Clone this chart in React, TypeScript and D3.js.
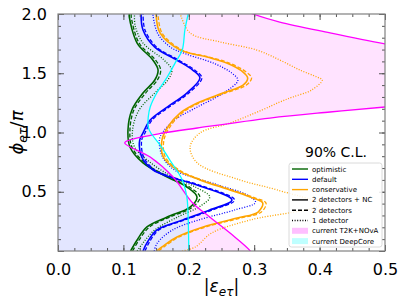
import React, { useEffect, useRef } from "react";
import * as d3 from "d3";

// [|eps_et|, phi_et/pi] pairs
const greenSolid = [[0.111,0],[0.121,0.093],[0.136,0.203],[0.167,0.287],[0.202,0.371],[0.2125,0.456],[0.197,0.54],[0.167,0.624],[0.130,0.743],[0.110,0.878],[0.107,1.021],[0.113,1.19],[0.130,1.333],[0.148,1.443],[0.153,1.527],[0.145,1.612],[0.121,1.755],[0.109,1.975],[0.109,2.0]];
const greenDashed = [[0.114,0],[0.124,0.093],[0.140,0.203],[0.171,0.287],[0.206,0.371],[0.217,0.456],[0.201,0.54],[0.170,0.624],[0.133,0.743],[0.113,0.878],[0.110,1.021],[0.116,1.19],[0.134,1.333],[0.152,1.443],[0.157,1.527],[0.149,1.612],[0.124,1.755],[0.112,1.975],[0.112,2.0]];
const greenDotted = [[0.121,0],[0.130,0.068],[0.148,0.177],[0.183,0.287],[0.218,0.38],[0.232,0.456],[0.210,0.54],[0.176,0.624],[0.142,0.743],[0.117,0.878],[0.114,1.02],[0.124,1.19],[0.148,1.333],[0.168,1.443],[0.174,1.527],[0.162,1.612],[0.130,1.755],[0.118,1.9],[0.117,2.0]];

const blueSolid = [[0.130,0],[0.136,0.068],[0.151,0.177],[0.191,0.262],[0.232,0.346],[0.266,0.43],[0.2125,0.557],[0.171,0.624],[0.145,0.684],[0.128,0.793],[0.125,0.937],[0.130,0.996],[0.141,1.105],[0.167,1.215],[0.197,1.333],[0.217,1.46],[0.206,1.527],[0.182,1.61],[0.148,1.72],[0.130,1.865],[0.127,2.0]];
const blueDashed = [[0.133,0],[0.139,0.068],[0.154,0.177],[0.194,0.262],[0.236,0.346],[0.270,0.43],[0.216,0.557],[0.174,0.624],[0.148,0.684],[0.131,0.793],[0.128,0.937],[0.133,0.996],[0.144,1.105],[0.170,1.215],[0.200,1.333],[0.220,1.46],[0.209,1.527],[0.185,1.61],[0.151,1.72],[0.133,1.865],[0.130,2.0]];
const blueDotted = [[0.147,0],[0.152,0.068],[0.175,0.177],[0.215,0.262],[0.270,0.346],[0.302,0.41],[0.290,0.47],[0.245,0.557],[0.205,0.624],[0.178,0.684],[0.160,0.793],[0.155,0.937],[0.160,1.0],[0.178,1.105],[0.213,1.215],[0.253,1.333],[0.275,1.44],[0.266,1.5],[0.240,1.58],[0.197,1.66],[0.172,1.72],[0.152,1.84],[0.145,2.0]];

const orangeSolid = [[0.151,0],[0.159,0.034],[0.182,0.118],[0.222,0.203],[0.274,0.278],[0.306,0.329],[0.313,0.405],[0.298,0.447],[0.263,0.515],[0.217,0.6],[0.182,0.684],[0.161,0.793],[0.159,0.937],[0.168,1.046],[0.187,1.165],[0.213,1.249],[0.252,1.333],[0.283,1.40],[0.290,1.46],[0.283,1.51],[0.258,1.586],[0.228,1.637],[0.187,1.696],[0.156,1.84],[0.150,2.0]];
const orangeDashed = [[0.154,0],[0.162,0.034],[0.185,0.118],[0.226,0.203],[0.279,0.278],[0.311,0.329],[0.318,0.405],[0.302,0.447],[0.266,0.515],[0.220,0.6],[0.185,0.684],[0.164,0.793],[0.162,0.937],[0.171,1.046],[0.190,1.165],[0.216,1.249],[0.256,1.333],[0.288,1.40],[0.296,1.46],[0.288,1.51],[0.262,1.586],[0.231,1.637],[0.190,1.696],[0.159,1.84],[0.153,2.0]];
const orangeDotted = [[0.190,0],[0.210,0.034],[0.235,0.152],[0.294,0.262],[0.400,0.39],[0.335,0.515],[0.278,0.6],[0.213,0.743],[0.202,0.878],[0.217,0.996],[0.263,1.08],[0.312,1.19],[0.339,1.257],[0.359,1.30],[0.388,1.359],[0.404,1.443],[0.396,1.468],[0.370,1.527],[0.339,1.612],[0.304,1.696],[0.248,1.764],[0.202,1.84],[0.187,2.0]];

const t2kLower = [[0.296,-0.03],[0.294,0],[0.263,0.152],[0.232,0.287],[0.206,0.405],[0.176,0.624],[0.141,0.793],[0.102,0.911],[0.110,0.937],[0.161,0.996],[0.213,1.038],[0.324,1.122],[0.416,1.173],[0.5,1.215],[0.56,1.24]];
const t2kUpper = [[0.56,1.69],[0.5,1.747],[0.416,1.84],[0.339,1.932],[0.298,2.0],[0.285,2.03]];
const deepCore = [[0.2,-0.03],[0.2,0],[0.199,0.287],[0.197,0.456],[0.190,0.6],[0.171,0.768],[0.156,0.895],[0.142,0.996],[0.138,1.046],[0.138,1.13],[0.141,1.215],[0.151,1.333],[0.167,1.468],[0.179,1.586],[0.190,1.696],[0.194,1.865],[0.199,2.0],[0.2,2.03]];

const xTicks = [0, 0.1, 0.2, 0.3, 0.4, 0.5];
const yTicks = [0.5, 1.0, 1.5, 2.0];

const GREEN = "#006400", BLUE = "#0000ff", ORANGE = "#ffa500", MAGENTA = "#ff00ff", CYAN = "#00ffff";

const series = [
  { pts: greenSolid, color: GREEN, dash: null },
  { pts: greenDashed, color: GREEN, dash: "4,2" },
  { pts: greenDotted, color: GREEN, dash: "1,1.6" },
  { pts: blueSolid, color: BLUE, dash: null },
  { pts: blueDashed, color: BLUE, dash: "4,2" },
  { pts: blueDotted, color: BLUE, dash: "1,1.6" },
  { pts: orangeSolid, color: ORANGE, dash: null },
  { pts: orangeDashed, color: ORANGE, dash: "4,2" },
  { pts: orangeDotted, color: ORANGE, dash: "1,1.6" },
];

const legendItems = [
  { label: "optimistic", kind: "line", color: GREEN, dash: null },
  { label: "default", kind: "line", color: BLUE, dash: null },
  { label: "conservative", kind: "line", color: ORANGE, dash: null },
  { label: "2 detectors + NC", kind: "line", color: "#000", dash: null },
  { label: "2 detectors", kind: "line", color: "#000", dash: "4,2" },
  { label: "1 detector", kind: "line", color: "#000", dash: "1,1.6" },
  { label: "current T2K+NOvA", kind: "patch", color: MAGENTA },
  { label: "current DeepCore", kind: "patch", color: CYAN },
];

const W = 407, H = 305;
const margin = { left: 58, right: 22, top: 14, bottom: 54 };

const App = () => {
  const ref = useRef(null);

  useEffect(() => {
    const svg = d3.select(ref.current);
    svg.selectAll("*").remove();
    const font = "DejaVu Sans, sans-serif";

    const x = d3.scaleLinear().domain([0, 0.5]).range([margin.left, W - margin.right]);
    const y = d3.scaleLinear().domain([0, 2]).range([H - margin.bottom, margin.top]);
    const x0 = x(0), x1 = x(0.5), y0 = y(0), y1 = y(2);

    svg.append("clipPath").attr("id", "plot-clip")
      .append("rect").attr("x", x0).attr("y", y1).attr("width", x1 - x0).attr("height", y0 - y1);

    const g = svg.append("g").attr("clip-path", "url(#plot-clip)");
    g.append("rect").attr("x", x0).attr("y", y1).attr("width", x1 - x0).attr("height", y0 - y1).attr("fill", "#fff");

    const line = d3.line().x(d => x(d[0])).y(d => y(d[1])).curve(d3.curveCatmullRom.alpha(0.5));

    // T2K+NOvA allowed region (left of the magenta contour)
    g.append("path").attr("d", line(t2kLower) + "L" + x(0.7) + "," + y(1.24) + "L" + x(0.7) + "," + y(1.69) +
        line(t2kUpper).replace(/^M/, "L") + "L" + x(-0.1) + "," + y(2.1) + "L" + x(-0.1) + "," + y(-0.1) + "Z")
      .attr("fill", MAGENTA).attr("fill-opacity", 0.11);

    // DeepCore allowed region (left of the cyan line)
    g.append("path").attr("d", line(deepCore) + "L" + x(-0.1) + "," + y(2.03) + "L" + x(-0.1) + "," + y(-0.03) + "Z")
      .attr("fill", CYAN).attr("fill-opacity", 0.11);

    series.forEach(s => {
      g.append("path").attr("d", line(s.pts))
        .attr("fill", "none").attr("stroke", s.color)
        .attr("stroke-width", s.dash ? 1.3 : 1.6)
        .attr("stroke-dasharray", s.dash);
    });

    g.append("path").attr("d", line(t2kLower)).attr("fill", "none").attr("stroke", MAGENTA).attr("stroke-width", 1.3);
    g.append("path").attr("d", line(t2kUpper)).attr("fill", "none").attr("stroke", MAGENTA).attr("stroke-width", 1.3);
    g.append("path").attr("d", line(deepCore)).attr("fill", "none").attr("stroke", CYAN).attr("stroke-width", 1.3);

    // axes, ticks pointing inwards on all four sides
    const xMinor = d3.range(0, 0.5001, 0.025);
    const yMinor = d3.range(0, 2.0001, 0.1);
    const addAxis = (axis, tr) => {
      const a = svg.append("g").attr("transform", tr).call(axis);
      a.select(".domain").remove();
      a.selectAll(".tick line").attr("stroke", "#555");
      return a;
    };
    addAxis(d3.axisBottom(x).tickValues(xMinor).tickSize(-3).tickFormat(() => ""), `translate(0,${y0})`);
    addAxis(d3.axisTop(x).tickValues(xMinor).tickSize(-3).tickFormat(() => ""), `translate(0,${y1})`);
    addAxis(d3.axisLeft(y).tickValues(yMinor).tickSize(-3).tickFormat(() => ""), `translate(${x0},0)`);
    addAxis(d3.axisRight(y).tickValues(yMinor).tickSize(-3).tickFormat(() => ""), `translate(${x1},0)`);

    const bx = addAxis(d3.axisBottom(x).tickValues(xTicks).tickSize(-6).tickPadding(13).tickFormat(d3.format(".1f")), `translate(0,${y0})`);
    addAxis(d3.axisTop(x).tickValues(xTicks).tickSize(-6).tickFormat(() => ""), `translate(0,${y1})`);
    const ly = addAxis(d3.axisLeft(y).tickValues([0, ...yTicks]).tickSize(-6).tickPadding(11).tickFormat(d => d === 0 ? "" : d3.format(".1f")(d)), `translate(${x0},0)`);
    addAxis(d3.axisRight(y).tickValues([0, ...yTicks]).tickSize(-6).tickFormat(() => ""), `translate(${x1},0)`);
    [bx, ly].forEach(a => a.selectAll("text").attr("font-family", font).attr("font-size", 16).attr("fill", "#000"));

    svg.append("rect").attr("x", x0).attr("y", y1).attr("width", x1 - x0).attr("height", y0 - y1)
      .attr("fill", "none").attr("stroke", "#808080").attr("stroke-width", 1.2);

    // axis labels
    const xl = svg.append("text").attr("x", (x0 + x1) / 2).attr("y", 292).attr("text-anchor", "middle")
      .attr("font-family", font).attr("font-size", 17);
    xl.append("tspan").text("|");
    xl.append("tspan").attr("font-style", "italic").text("ε");
    xl.append("tspan").attr("font-style", "italic").attr("font-size", 12).attr("dy", 4).text("eτ");
    xl.append("tspan").attr("dy", -4).text("|");

    const yl = svg.append("text").attr("transform", `translate(23,${(y0 + y1) / 2}) rotate(-90)`)
      .attr("text-anchor", "middle").attr("font-family", font).attr("font-size", 18);
    yl.append("tspan").attr("font-style", "italic").text("ϕ");
    yl.append("tspan").attr("font-style", "italic").attr("font-size", 12.5).attr("dy", 4).text("eτ");
    yl.append("tspan").attr("dy", -4).text("/");
    yl.append("tspan").attr("font-style", "italic").text("π");

    svg.append("text").attr("x", 336).attr("y", 157).attr("text-anchor", "middle")
      .attr("font-family", font).attr("font-size", 14).text("90% C.L.");

    // legend
    const lg = svg.append("g");
    lg.append("rect").attr("x", 289).attr("y", 163).attr("width", 93).attr("height", 84).attr("rx", 2.5)
      .attr("fill", "#fff").attr("fill-opacity", 0.85).attr("stroke", "#d0d0d0").attr("stroke-width", 0.8);
    legendItems.forEach((it, i) => {
      const cy = 169 + i * 10.3;
      if (it.kind === "line") {
        lg.append("line").attr("x1", 292).attr("x2", 308).attr("y1", cy).attr("y2", cy)
          .attr("stroke", it.color).attr("stroke-width", 1.4).attr("stroke-dasharray", it.dash);
      } else {
        lg.append("rect").attr("x", 292).attr("y", cy - 3).attr("width", 16).attr("height", 6)
          .attr("fill", it.color).attr("fill-opacity", 0.25);
      }
      lg.append("text").attr("x", 312).attr("y", cy + 2.5).attr("font-family", font).attr("font-size", 7).text(it.label);
    });
  }, []);

  return (
    <svg ref={ref} width={W} height={H} style={{ position: "absolute", left: 0, top: 0, background: "#fff" }} />
  );
};

export default App;
